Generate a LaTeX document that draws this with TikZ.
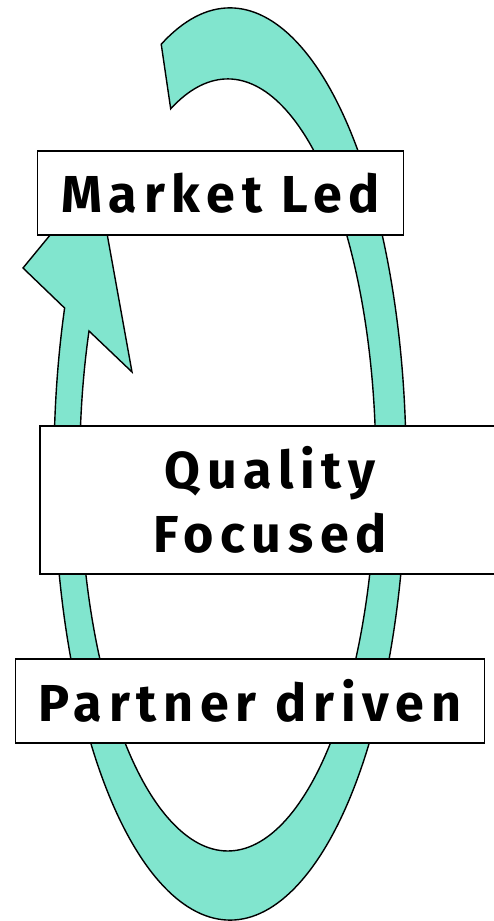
\documentclass[tikz,border=0pt]{standalone}
\usepackage{fontspec}
\newfontfamily\lblfont[LetterSpace=13]{Fira Sans}
\definecolor{band}{RGB}{129,229,206}
\tikzset{
  lbl/.style={draw=black, line width=1.4pt, fill=white, inner sep=0pt,
    font=\lblfont\bfseries\fontsize{52}{64}\selectfont, text=black},
  bandshape/.style={draw=black, line width=1.4pt, fill=band, line join=miter}
}
\begin{document}
\begin{tikzpicture}[x=1pt,y=1pt]
\useasboundingbox (0,0) rectangle (493,921);
% circular arrow band (outer ellipse centre (230,457) radii 176/456, inner (230,456) 148/386)
\draw[bandshape]
  (230,457) ++(113:176 and 456) coordinate (os)
  arc[start angle=113, end angle=-200, x radius=176, y radius=456] coordinate (oe)
  -- (23,653) coordinate (barbL)
  -- (97,743) coordinate (tip)
  -- (132,549) coordinate (barbR)
  -- (89,590) coordinate (ie)
  arc[start angle=-200.3, end angle=112.7, x radius=148, y radius=386]
  -- cycle;
\node[lbl, minimum width=366pt, minimum height=84pt] (market) at (220.7,728) {Market Led};
\node[lbl, minimum width=460pt, minimum height=148pt, align=center] (quality) at (270,421) {Quality\\Focused};
\node[lbl, minimum width=468.6pt, minimum height=84pt] (partner) at (250,220) {Partner driven};
\end{tikzpicture}
\end{document}
